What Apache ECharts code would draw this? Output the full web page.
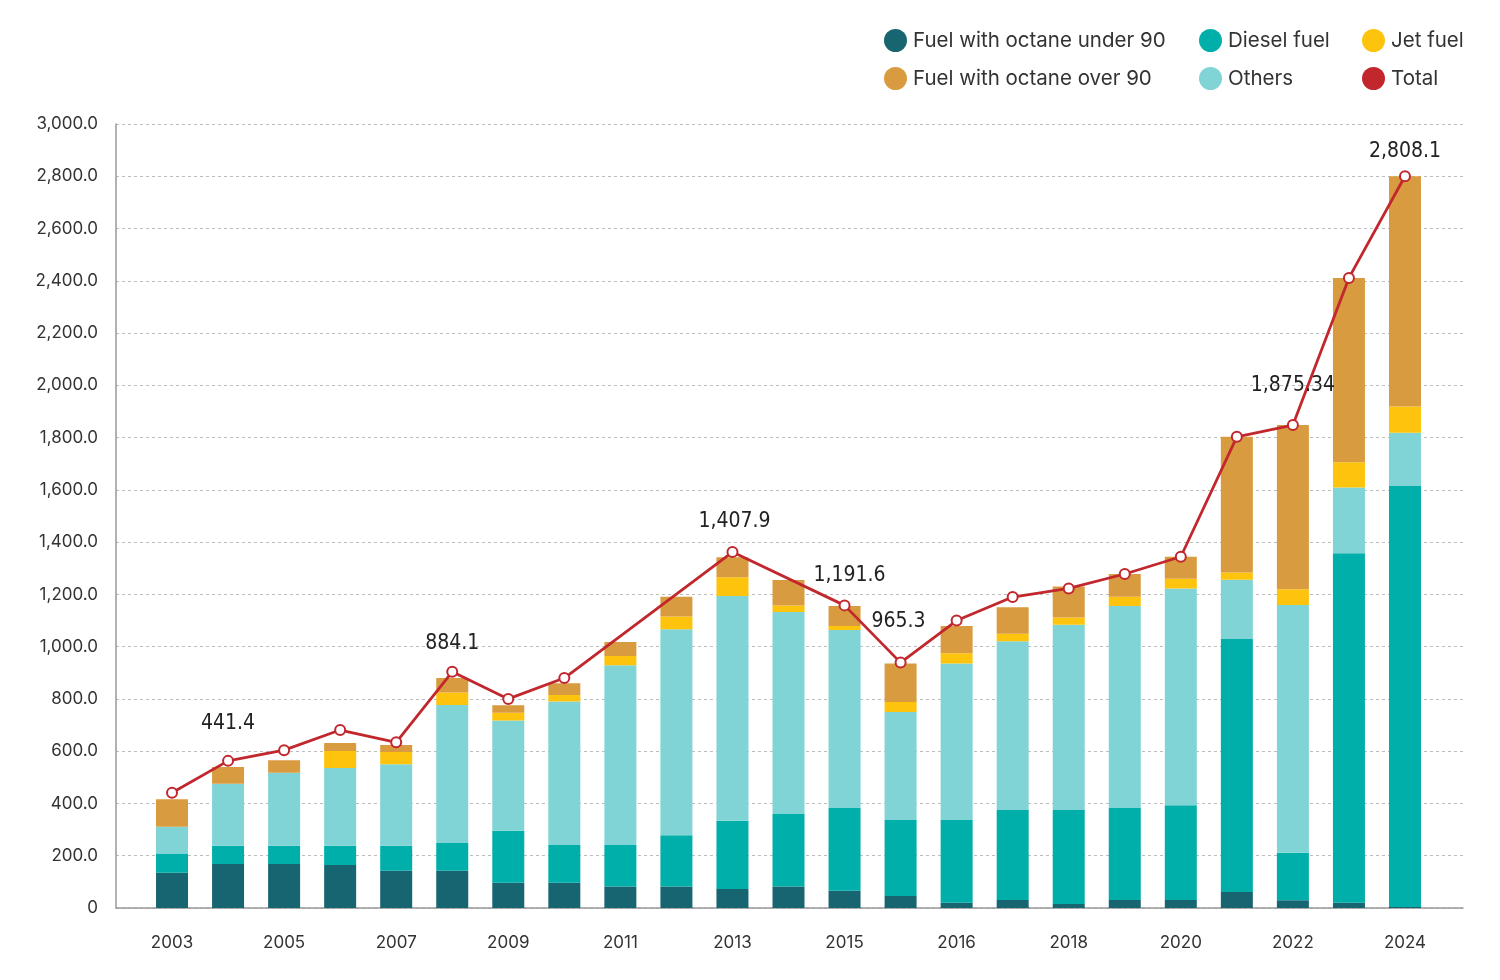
<!DOCTYPE html>
<html>
<head>
<meta charset="utf-8">
<script src="https://cdn.jsdelivr.net/npm/echarts@6/dist/echarts.min.js"></script>
<style>
html,body{margin:0;padding:0;background:#fff;}
#chart{width:1500px;height:980px;}
</style>
</head>
<body>
<div id="chart"></div>
<script>
const categories = ['2003','2004','2005','2006','2007','2008','2009','2010','2011','2012','2013','2014','2015','2015/16','2016','2017','2018','2019','2020','2021','2022','2023','2024'];
const under90 = [135,168,168,165,143,143,97,97,82,82,73,82,66,46,20,31,15,31,31,61,30,20,4];
const diesel  = [72,70,70,73,95,106,199,144,159,196,261,278,317,291,317,344,360,352,362,968,181,1337,1611];
const others  = [104,237,280,298,312,528,421,549,688,789,860,773,681,413,599,646,709,773,830,227,948,252,204];
const jet     = [0,0,0,65,47,48,30,25,35,48,72,25,15,38,39,28,28,35,37,28,61,97,100];
const over90  = [105,65,47,30,27,55,29,45,54,76,76,97,77,148,104,102,118,87,84,519,628,705,881];
const total   = [441,563,604,681,634,904,800,880,null,null,1362,null,1158,939,1100,1190,1223,1278,1344,1803,1848,2411,2800];
const totalLabels = ['','441.4','','','','884.1','','','','','1,407.9','','1,191.6','965.3','','','','','','','1,875.34','','2,808.1'];
const labelOffsets = [[0,0],[0,-16],[0,0],[0,0],[0,0],[0,-7],[0,0],[0,0],[0,0],[0,0],[2,-9],[0,0],[5,-8],[-2,-20],[0,0],[0,0],[0,0],[0,0],[0,0],[0,0],[0,-18],[0,0],[0,-3]];

const names = {
  u: 'Fuel with octane under 90',
  d: 'Diesel fuel',
  j: 'Jet fuel',
  o: 'Fuel with octane over 90',
  r: 'Others',
  t: 'Total'
};
const colors = {u:'#176571', d:'#00aeaa', r:'#80d4d5', j:'#fec40d', o:'#d99b3f', t:'#c1272d'};

const chart = echarts.init(document.getElementById('chart'));
const font = 'Inter, Roboto, sans-serif';
const legendBase = {
  orient: 'vertical', top: 24, itemWidth: 23, itemHeight: 23, itemGap: 15,
  icon: 'circle', selectedMode: false,
  textStyle: {fontFamily: font, fontSize: 20.5, color: '#333', padding: [0,0,0,1]}
};
function legendItem(k){ return {name: names[k], icon: 'circle', itemStyle: {color: colors[k], borderWidth: 0}}; }

const barSeries = [['u',under90],['d',diesel],['r',others],['j',jet],['o',over90]].map(([k,arr]) => ({
  name: names[k], type: 'bar', stack: 'fuel', xAxisIndex: 1, yAxisIndex: 1,
  barWidth: 32, itemStyle: {color: colors[k]}, data: arr
}));

chart.setOption({
  animation: false,
  backgroundColor: '#fff',
  legend: [
    Object.assign({}, legendBase, {left: 879, data: [legendItem('u'), legendItem('o')]}),
    Object.assign({}, legendBase, {left: 1194, data: [legendItem('d'), legendItem('r')]}),
    Object.assign({}, legendBase, {left: 1357, data: [legendItem('j'), legendItem('t')]})
  ],
  grid: [
    {left: 116, right: 37, top: 124, bottom: 72},
    {left: 144, right: 67, top: 124, bottom: 72}
  ],
  xAxis: [
    {gridIndex: 0, type: 'value', min: 0, max: 1, axisLine: {show: true, onZero: false, lineStyle: {color: '#999', width: 1.5}},
     axisTick: {show: false}, axisLabel: {show: false}, splitLine: {show: false}},
    {gridIndex: 1, type: 'category', data: categories, axisLine: {show: false}, axisTick: {show: false},
     axisLabel: {interval: 1, margin: 26, fontFamily: font, fontSize: 17, color: '#333'}}
  ],
  yAxis: [
    {gridIndex: 0, type: 'value', min: 0, max: 3000, interval: 200,
     axisLine: {show: true, lineStyle: {color: '#999', width: 1.5}}, axisTick: {show: false},
     axisLabel: {margin: 18, fontFamily: font, fontSize: 17, color: '#333',
       formatter: v => v === 0 ? '0' : v.toLocaleString('en-US', {minimumFractionDigits: 1, maximumFractionDigits: 1})},
     splitLine: {show: true, lineStyle: {color: '#bdbdbd', type: [3,3], width: 1}}},
    {gridIndex: 1, type: 'value', min: 0, max: 3000, interval: 200, show: false, splitLine: {show: false}}
  ],
  series: barSeries.concat([{
    name: names.t, type: 'line', xAxisIndex: 1, yAxisIndex: 1, z: 5,
    connectNulls: true, symbol: 'emptyCircle', symbolSize: 10,
    lineStyle: {color: colors.t, width: 2.8},
    itemStyle: {color: colors.t, borderColor: colors.t, borderWidth: 2.5},
    data: total.map((v, i) => ({
      value: v,
      label: {show: totalLabels[i] !== '', position: 'top', offset: labelOffsets[i],
        formatter: () => totalLabels[i],
        fontFamily: '"DejaVu Sans Condensed", "Liberation Sans Narrow", sans-serif',
        fontSize: 21, color: '#222'}
    }))
  }])
});
</script>
</body>
</html>
